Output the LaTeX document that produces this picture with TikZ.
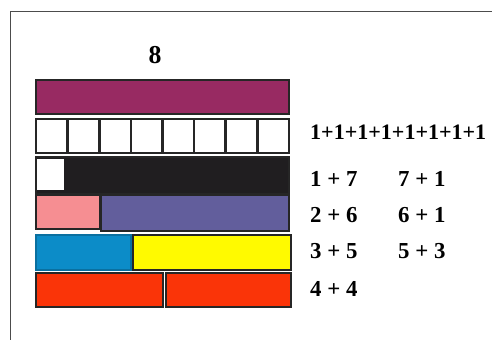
\documentclass[tikz,border=0pt]{standalone}
\usepackage{fontspec}
\setmainfont{Liberation Serif}
\usetikzlibrary{positioning}

\definecolor{wholeclr}{RGB}{152,42,98}
\definecolor{nightclr}{RGB}{32,30,32}
\definecolor{pinkclr}{RGB}{246,142,146}
\definecolor{slateclr}{RGB}{98,94,156}
\definecolor{skyclr}{RGB}{12,140,200}
\definecolor{sunclr}{RGB}{255,250,0}
\definecolor{redclr}{RGB}{250,52,8}

\begin{document}
\begin{tikzpicture}[
    x=0.03cm, y=-0.03cm,
    bar/.style={draw=black!85, line width=1.3pt},
    sum/.style={anchor=west, inner sep=0pt, font=\fontsize{19.5}{21}\selectfont\bfseries}
]
\useasboundingbox (0,0) rectangle (492,340);
% frame
\draw[black!70, line width=0.8pt] (10,345) -- (10,11) -- (500,11);

% the number
\node[font=\fontsize{22}{24}\selectfont\bfseries] (eight) at (155,55) {8};

% bars
\draw[bar, fill=wholeclr] (36,80) rectangle (289,114);
\draw[bar, fill=white] (36,119) rectangle (289,153);
\foreach \i in {1,...,7}
    \draw[line width=2.2pt, black!85] ({36+\i*253/8},119) -- ({36+\i*253/8},153);
\draw[bar, fill=nightclr] (36,157) rectangle (289,194);
\fill[white] (37,159) rectangle (64,190);
\draw[bar, fill=pinkclr] (36,195) rectangle (100,229);
\draw[bar, fill=slateclr] (101,195) rectangle (289,231);
\draw[bar, draw=skyclr!80!black, fill=skyclr] (36,235) rectangle (131,270);
\draw[bar, fill=sunclr] (133,235) rectangle (291,270);
\draw[bar, fill=redclr] (36,273) rectangle (163,307);
\draw[bar, fill=redclr] (166,273) rectangle (291,307);

% sums
\node[sum, font=\fontsize{18.8}{21}\selectfont\bfseries] (ones) at (310,132) {1+1+1+1+1+1+1+1};
\node[sum] (a1) at (310,179) {1 + 7};
\node[sum] (b1) at (398,179) {7 + 1};
\node[sum] (a2) at (310,215) {2 + 6};
\node[sum] (b2) at (b1.west |- a2) {6 + 1};
\node[sum] (a3) at (310,251) {3 + 5};
\node[sum] (b3) at (b1.west |- a3) {5 + 3};
\node[sum] (a4) at (310,289) {4 + 4};
\end{tikzpicture}
\end{document}
